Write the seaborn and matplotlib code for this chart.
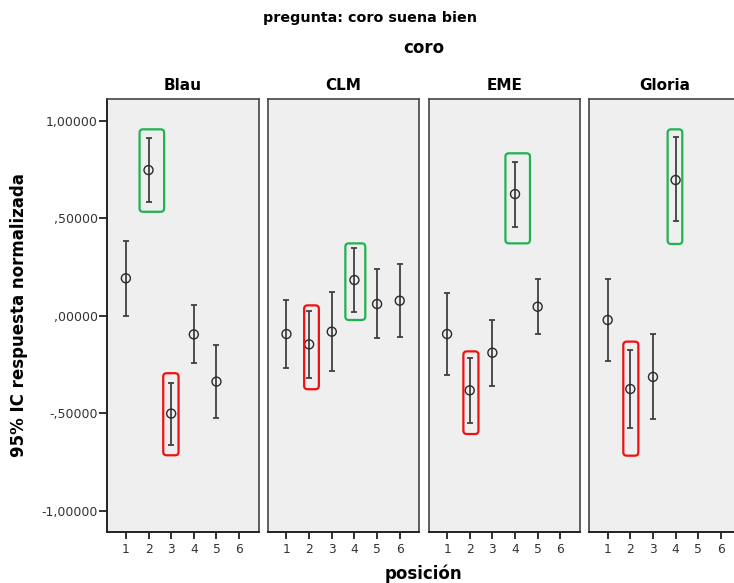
import numpy as np
import pandas as pd
import matplotlib
matplotlib.use("Agg")
import matplotlib.pyplot as plt
import seaborn as sns
from matplotlib.patches import FancyBboxPatch

# ---------------- data ----------------
coros = ["Blau", "CLM", "EME", "Gloria"]

blau_pos = [1, 2, 3, 4, 5]
blau_mean = [0.192, 0.747, -0.502, -0.096, -0.338]
blau_lo = [0.000, 0.583, -0.662, -0.244, -0.523]
blau_hi = [0.385, 0.913, -0.344, 0.055, -0.150]

clm_pos = [1, 2, 3, 4, 5, 6]
clm_mean = [-0.094, -0.147, -0.082, 0.183, 0.060, 0.077]
clm_lo = [-0.270, -0.319, -0.285, 0.019, -0.116, -0.109]
clm_hi = [0.081, 0.026, 0.123, 0.346, 0.238, 0.265]

eme_pos = [1, 2, 3, 4, 5]
eme_mean = [-0.094, -0.383, -0.190, 0.624, 0.046]
eme_lo = [-0.304, -0.550, -0.359, 0.456, -0.095]
eme_hi = [0.115, -0.217, -0.021, 0.790, 0.190]

gloria_pos = [1, 2, 3, 4]
gloria_mean = [-0.022, -0.376, -0.314, 0.696]
gloria_lo = [-0.231, -0.576, -0.531, 0.484]
gloria_hi = [0.187, -0.176, -0.094, 0.915]

x_ticks = [1, 2, 3, 4, 5, 6]
y_ticks = [1.0, 0.5, 0.0, -0.5, -1.0]
y_ticklabels = ["1,00000", ",50000", ",00000", "-,50000", "-1,00000"]

# highlight annotations (hand-drawn boxes in the original)
hl_coro = ["Blau", "Blau", "CLM", "CLM", "EME", "EME", "Gloria", "Gloria"]
hl_kind = ["mejor", "peor", "mejor", "peor", "mejor", "peor", "mejor", "peor"]
hl_x0 = [1.604, 2.650, 3.600, 1.780, 3.576, 1.720, 3.647, 1.690]
hl_x1 = [2.689, 3.325, 4.480, 2.430, 4.661, 2.385, 4.295, 2.354]
hl_y0 = [0.533, -0.716, -0.022, -0.377, 0.371, -0.607, 0.368, -0.718]
hl_y1 = [0.956, -0.295, 0.371, 0.053, 0.833, -0.183, 0.956, -0.133]

frames = []
for name, p, m, lo, hi in [
    ("Blau", blau_pos, blau_mean, blau_lo, blau_hi),
    ("CLM", clm_pos, clm_mean, clm_lo, clm_hi),
    ("EME", eme_pos, eme_mean, eme_lo, eme_hi),
    ("Gloria", gloria_pos, gloria_mean, gloria_lo, gloria_hi),
]:
    frames.append(pd.DataFrame({"coro": name, "posicion": p, "media": m,
                                "lo": lo, "hi": hi}))
df = pd.concat(frames, ignore_index=True)
hl = pd.DataFrame({"coro": hl_coro, "kind": hl_kind, "x0": hl_x0,
                   "x1": hl_x1, "y0": hl_y0, "y1": hl_y1})

# ---------------- style ----------------
sns.set_style("white")
plt.rcParams["font.family"] = ["DejaVu Sans"]
plt.rcParams["text.color"] = "black"

W, H = 734, 583
g = sns.FacetGrid(df, col="coro", col_order=coros, sharex=True, sharey=True,
                  height=5.83, aspect=7.34 / 5.83 / 4)
g.figure.set_size_inches(W / 100, H / 100)
g.figure.set_dpi(100)

bar_col = "#404040"


def draw(data, **kw):
    ax = plt.gca()
    ax.errorbar(data["posicion"], data["media"],
                yerr=[data["media"] - data["lo"], data["hi"] - data["media"]],
                fmt="none", ecolor=bar_col, elinewidth=1.3, capsize=2.2,
                capthick=1.3, zorder=2)
    sns.scatterplot(data=data, x="posicion", y="media", ax=ax, marker="o",
                    s=42, facecolor="none", edgecolor="#2a2a2a",
                    linewidth=1.0, zorder=3)


g.map_dataframe(draw)

# panel geometry (pixels)
left0, pw, step = 107.3, 151.3, 160.6
top_px, bot_px = 99.3, 532.3
xlim = (0.18, 6.86)
ylim = (-1.111, 1.11)

hl_colors = {"mejor": "#1fb350", "peor": "#ee1111"}

for i, (ax, name) in enumerate(zip(g.axes.flat, coros)):
    ax.set_position([(left0 + i * step) / W, 1 - bot_px / H, pw / W,
                     (bot_px - top_px) / H])
    ax.set_facecolor("#efefef")
    ax.set_xlim(*xlim)
    ax.set_ylim(*ylim)
    ax.set_xticks(x_ticks)
    ax.set_xticklabels([str(t) for t in x_ticks], fontsize=8.8, color="#333333")
    ax.tick_params(axis="x", direction="out", length=5, width=1.3,
                   color="#222222", pad=3, bottom=True)
    ax.set_xlabel("")
    ax.set_ylabel("")
    ax.set_title(name, fontsize=11, fontweight="bold", pad=7, color="black")
    for s in ["top", "right", "left", "bottom"]:
        ax.spines[s].set_visible(True)
        ax.spines[s].set_color("#444444")
        ax.spines[s].set_linewidth(1.2)
    ax.spines["bottom"].set_color("#222222")
    ax.spines["bottom"].set_linewidth(1.4)
    if i == 0:
        ax.set_yticks(y_ticks)
        ax.set_yticklabels(y_ticklabels, fontsize=9, color="#333333")
        ax.tick_params(axis="y", direction="out", length=6, width=1.3,
                       color="#222222", pad=1, left=True)
        ax.spines["left"].set_color("#222222")
        ax.spines["left"].set_linewidth(1.4)
    else:
        ax.tick_params(axis="y", left=False, labelleft=False)

    # rounded highlight boxes
    xper = (xlim[1] - xlim[0]) / pw
    yper = (ylim[1] - ylim[0]) / (bot_px - top_px)
    for _, r in hl[hl["coro"] == name].iterrows():
        box = FancyBboxPatch((r["x0"], r["y0"]), r["x1"] - r["x0"],
                             r["y1"] - r["y0"],
                             boxstyle="round,pad=0,rounding_size=%f" % (3.5 * xper),
                             mutation_aspect=yper / xper,
                             facecolor="none", edgecolor=hl_colors[r["kind"]],
                             linewidth=1.6, zorder=4)
        ax.add_patch(box)

fig = g.figure
fig.text(370 / W, 1 - 18 / H, "pregunta: coro suena bien",
         ha="center", va="center", fontsize=10.3, fontweight="bold")
fig.text(423.7 / W, 1 - 48 / H, "coro", ha="center", va="center",
         fontsize=12, fontweight="bold")
fig.text(423.7 / W, 1 - 574 / H, "posición", ha="center", va="center",
         fontsize=12, fontweight="bold")
fig.text(19 / W, 1 - 315 / H, "95% IC respuesta normalizada", ha="center",
         va="center", rotation=90, fontsize=12, fontweight="bold")

fig.savefig("out.png", dpi=100)
